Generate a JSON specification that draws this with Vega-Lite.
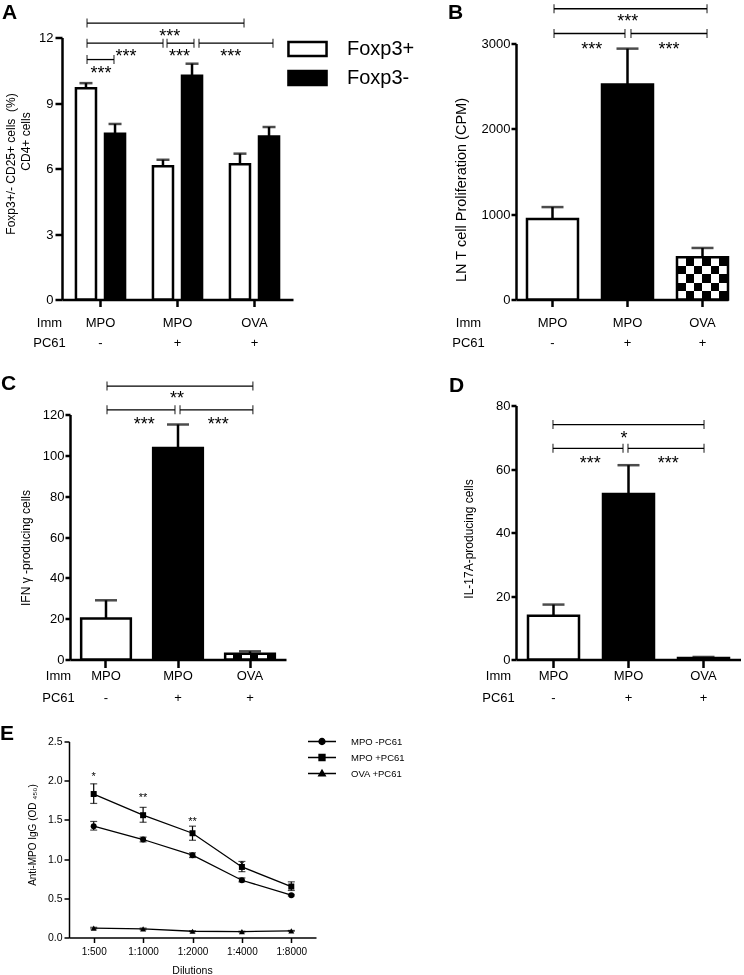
{
"$schema":"https://vega.github.io/schema/vega-lite/v6.json",
"background":"white",
"padding":{"left":0,"top":1.5,"right":0,"bottom":0},
"autosize":{"type":"pad"},
"bounds":"flush",
"columns":2,
"spacing":{"row":80,"column":200},
"resolve":{"scale":{"fill":"independent","shape":"independent"},"legend":{"fill":"independent","shape":"independent"}},
"config":{
 "font":"Liberation Sans",
 "view":{"stroke":null},
 "axis":{"domainColor":"black","tickColor":"black","labelColor":"black","titleColor":"black","grid":false,"titleFontWeight":"normal","labelFont":"Liberation Sans","titleFont":"Liberation Sans","labelOverlap":false},
 "title":{"fontSize":21,"fontWeight":"bold","anchor":"start","frame":"group","offset":2,"color":"black","font":"Liberation Sans"}
},
"datasets":{
 "A":[
  {"grp":"MPO|-","cell":"Foxp3+","v":9.68,"hi":9.91},
  {"grp":"MPO|-","cell":"Foxp3-","v":7.59,"hi":8.04},
  {"grp":"MPO|+","cell":"Foxp3+","v":6.10,"hi":6.40},
  {"grp":"MPO|+","cell":"Foxp3-","v":10.25,"hi":10.80},
  {"grp":"OVA|+","cell":"Foxp3+","v":6.20,"hi":6.68},
  {"grp":"OVA|+","cell":"Foxp3-","v":7.47,"hi":7.90}
 ],
 "A_br":[
  {"x1":0.325,"x2":2.364,"y":12.66},
  {"x1":0.325,"x2":1.312,"y":11.74},
  {"x1":1.364,"x2":1.714,"y":11.74},
  {"x1":1.779,"x2":2.74,"y":11.74},
  {"x1":0.325,"x2":0.675,"y":10.99}
 ],
 "A_lab":[
  {"x":1.40,"y":12.45,"t":"***"},
  {"x":0.83,"y":11.5,"t":"***"},
  {"x":1.526,"y":11.5,"t":"***"},
  {"x":2.19,"y":11.5,"t":"***"},
  {"x":0.506,"y":10.72,"t":"***"}
 ],
 "B":[
  {"grp":"MPO|-","v":943,"hi":1083},
  {"grp":"MPO|+","v":2520,"hi":2940},
  {"grp":"OVA|+","v":494,"hi":604}
 ],
 "B_br":[
  {"x1":0.507,"x2":2.547,"y":3407},
  {"x1":0.507,"x2":1.453,"y":3117},
  {"x1":1.533,"x2":2.547,"y":3117}
 ],
 "B_lab":[
  {"x":1.49,"y":3352,"t":"***"},
  {"x":1.01,"y":3035,"t":"***"},
  {"x":2.04,"y":3035,"t":"***"}
 ],
 "C":[
  {"grp":"MPO|-","v":20.1,"hi":29.0},
  {"grp":"MPO|+","v":103.6,"hi":115.1},
  {"grp":"OVA|+","v":2.8,"hi":4.0}
 ],
 "C_br":[
  {"x1":0.514,"x2":2.54,"y":133.9},
  {"x1":0.514,"x2":1.458,"y":122.3},
  {"x1":1.528,"x2":2.54,"y":122.3}
 ],
 "C_lab":[
  {"x":1.486,"y":131.8,"t":"**"},
  {"x":1.03,"y":119.5,"t":"***"},
  {"x":2.06,"y":119.5,"t":"***"}
 ],
 "D":[
  {"grp":"MPO|-","v":13.8,"hi":17.3},
  {"grp":"MPO|+","v":52.1,"hi":61.2},
  {"grp":"OVA|+","v":0.5,"hi":0.8}
 ],
 "D_br":[
  {"x1":0.493,"x2":2.507,"y":74.0},
  {"x1":0.493,"x2":1.427,"y":66.5},
  {"x1":1.493,"x2":2.507,"y":66.5}
 ],
 "D_lab":[
  {"x":1.44,"y":72.4,"t":"*"},
  {"x":0.99,"y":64.3,"t":"***"},
  {"x":2.03,"y":64.3,"t":"***"}
 ],
 "E":[
  {"dil":"1:500","s":"MPO -PC61","v":1.42,"lo":1.37,"hi":1.48},
  {"dil":"1:1000","s":"MPO -PC61","v":1.25,"lo":1.22,"hi":1.28},
  {"dil":"1:2000","s":"MPO -PC61","v":1.05,"lo":1.02,"hi":1.08},
  {"dil":"1:4000","s":"MPO -PC61","v":0.73,"lo":0.71,"hi":0.76},
  {"dil":"1:8000","s":"MPO -PC61","v":0.54,"lo":0.53,"hi":0.55},
  {"dil":"1:500","s":"MPO +PC61","v":1.83,"lo":1.71,"hi":1.96},
  {"dil":"1:1000","s":"MPO +PC61","v":1.56,"lo":1.47,"hi":1.66},
  {"dil":"1:2000","s":"MPO +PC61","v":1.33,"lo":1.24,"hi":1.42},
  {"dil":"1:4000","s":"MPO +PC61","v":0.90,"lo":0.84,"hi":0.97},
  {"dil":"1:8000","s":"MPO +PC61","v":0.65,"lo":0.60,"hi":0.71},
  {"dil":"1:500","s":"OVA +PC61","v":0.12,"lo":0.11,"hi":0.13},
  {"dil":"1:1000","s":"OVA +PC61","v":0.11,"lo":0.10,"hi":0.12},
  {"dil":"1:2000","s":"OVA +PC61","v":0.08,"lo":0.075,"hi":0.085},
  {"dil":"1:4000","s":"OVA +PC61","v":0.075,"lo":0.07,"hi":0.08},
  {"dil":"1:8000","s":"OVA +PC61","v":0.085,"lo":0.08,"hi":0.09}
 ],
 "E_lab":[
  {"dil":"1:500","y":2.12,"t":"*"},
  {"dil":"1:1000","y":1.85,"t":"**"},
  {"dil":"1:2000","y":1.55,"t":"**"},
  {"dil":"1:4000","y":0.99,"t":"*"}
 ]
},
"concat":[
 {
  "width":231,"height":262,
  "title":{"text":"A","dx":-60,"dy":6},
  "resolve":{"scale":{"x":"independent"}},
  "layer":[
   {
    "data":{"name":"A"},
    "encoding":{
     "x":{"field":"grp","type":"nominal","sort":null,"scale":{"domain":["MPO|-","MPO|+","OVA|+"],"paddingInner":0,"paddingOuter":0},
      "axis":{"labelExpr":"split(datum.value,'|')","labelLineHeight":20,"labelPadding":10,"labelBaseline":"top","tickSize":7,"tickWidth":2.5,"domainWidth":2.5,"labelFontSize":13,"labelAngle":0,
       "title":["Imm","PC61"],"titleX":-13,"titleY":17,"titleAlign":"center","titleBaseline":"top","titleLineHeight":20,"titleFontSize":13,"titleAngle":0}},
     "xOffset":{"field":"cell","type":"nominal","sort":["Foxp3+","Foxp3-"],"scale":{"paddingInner":0.31,"paddingOuter":0.48}},
     "y":{"field":"v","type":"quantitative","scale":{"domain":[0,12]},
      "axis":{"values":[0,3,6,9,12],"tickSize":7,"tickWidth":2.5,"domainWidth":2.5,"labelFontSize":13,"labelPadding":2,
       "title":["Foxp3+/- CD25+ cells\u00a0 (%)","\u2800\u2800\u2800\u2800\u2800CD4+ cells"],"titleX":-57,"titleY":126,"titleAlign":"center","titleBaseline":"top","titleAngle":270,"titleLineHeight":15,"titleFontSize":12}}
    },
    "layer":[
     {"mark":{"type":"bar","stroke":"black","strokeWidth":2.5},
      "encoding":{"fill":{"field":"cell","type":"nominal","scale":{"domain":["Foxp3+","Foxp3-"],"range":["white","black"]},
       "legend":{"orient":"none","legendX":230,"legendY":-4,"title":null,"symbolType":"M-1.36,-0.5H1.36V0.5H-1.36Z","symbolSize":784,"symbolStrokeColor":"black","symbolStrokeWidth":2.5,"labelFontSize":20,"labelOffset":24,"rowPadding":1,"padding":0,"labelColor":"black","labelFont":"Liberation Sans"}}}},
     {"mark":{"type":"rule","color":"black","strokeWidth":2.5},"encoding":{"y2":{"field":"hi"}}},
     {"mark":{"type":"tick","orient":"horizontal","color":"black","size":13,"thickness":2.5},"encoding":{"y":{"field":"hi","type":"quantitative","scale":{"domain":[0,12]}}}}
    ]
   },
   {
    "layer":[
     {"data":{"name":"A_br"},"mark":{"type":"rule","color":"black","strokeWidth":1.3},
      "encoding":{"x":{"field":"x1","type":"quantitative","scale":{"domain":[0,3]},"axis":null},"x2":{"field":"x2"},"y":{"field":"y","type":"quantitative","scale":{"domain":[0,12]}}}},
     {"data":{"name":"A_br"},"transform":[{"fold":["x1","x2"],"as":["end","xe"]}],"mark":{"type":"tick","orient":"vertical","color":"black","size":9,"thickness":1.3},
      "encoding":{"x":{"field":"xe","type":"quantitative","scale":{"domain":[0,3]},"axis":null},"y":{"field":"y","type":"quantitative","scale":{"domain":[0,12]}}}},
     {"data":{"name":"A_lab"},"mark":{"type":"text","baseline":"top","fontSize":18,"color":"black"},
      "encoding":{"x":{"field":"x","type":"quantitative","scale":{"domain":[0,3]},"axis":null},"y":{"field":"y","type":"quantitative","scale":{"domain":[0,12]}},"text":{"field":"t"}}}
    ]
   }
  ]
 },
 {
  "width":212,"height":262,
  "title":{"text":"B","dx":-68,"dy":20.7},
  "resolve":{"scale":{"x":"independent"}},
  "layer":[
   {
    "data":{"name":"B"},
    "encoding":{
     "x":{"field":"grp","type":"nominal","sort":null,"scale":{"domain":["MPO|-","MPO|+","OVA|+"],"paddingInner":0.32,"paddingOuter":0.0733,"align":1},
      "axis":{"labelExpr":"split(datum.value,'|')","labelLineHeight":20,"labelPadding":10,"labelBaseline":"top","tickSize":7,"tickWidth":2.5,"domainWidth":2.5,"labelFontSize":13,"labelAngle":0,
       "title":["Imm","PC61"],"titleX":-48,"titleY":17,"titleAlign":"center","titleBaseline":"top","titleLineHeight":20,"titleFontSize":13,"titleAngle":0}},
     "y":{"field":"v","type":"quantitative","scale":{"domain":[0,3000],"range":[262,6]},
      "axis":{"values":[0,1000,2000,3000],"format":"d","tickSize":5,"tickWidth":2.5,"domainWidth":2.5,"labelFontSize":13,"labelPadding":1,
       "title":"LN T cell Proliferation (CPM)","titleX":-62,"titleY":152,"titleAlign":"center","titleBaseline":"top","titleAngle":270,"titleFontSize":14.5}}
    },
    "layer":[
     {"transform":[{"filter":"datum.grp == 'OVA|+'"}],
      "mark":{"type":"bar","fill":{"gradient":"linear","x1":0,"y1":0,"x2":0,"y2":1,"stops":[{"offset":0,"color":"white"},{"offset":0.2,"color":"white"},{"offset":0.2,"color":"black"},{"offset":0.4,"color":"black"},{"offset":0.4,"color":"white"},{"offset":0.6,"color":"white"},{"offset":0.6,"color":"black"},{"offset":0.8,"color":"black"},{"offset":0.8,"color":"white"},{"offset":1,"color":"white"}]}}},
     {"transform":[{"filter":"datum.grp == 'OVA|+'"}],
      "mark":{"type":"bar","blend":"difference","fill":{"gradient":"linear","x1":0,"y1":0,"x2":1,"y2":0,"stops":[{"offset":0,"color":"black"},{"offset":0.1667,"color":"black"},{"offset":0.1667,"color":"white"},{"offset":0.3333,"color":"white"},{"offset":0.3333,"color":"black"},{"offset":0.5,"color":"black"},{"offset":0.5,"color":"white"},{"offset":0.6667,"color":"white"},{"offset":0.6667,"color":"black"},{"offset":0.8333,"color":"black"},{"offset":0.8333,"color":"white"},{"offset":1,"color":"white"}]}}},
     {"mark":{"type":"bar","stroke":"black","strokeWidth":2.5},
      "encoding":{"fill":{"field":"grp","type":"nominal","scale":{"domain":["MPO|-","MPO|+","OVA|+"],"range":["white","black","transparent"]},"legend":null}}},
     {"mark":{"type":"rule","color":"black","strokeWidth":2.5},"encoding":{"y2":{"field":"hi"}}},
     {"mark":{"type":"tick","orient":"horizontal","color":"black","size":22,"thickness":2.5},"encoding":{"y":{"field":"hi","type":"quantitative","scale":{"domain":[0,3000],"range":[262,6]}}}}
    ]
   },
   {
    "layer":[
     {"data":{"name":"B_br"},"mark":{"type":"rule","color":"black","strokeWidth":1.3},
      "encoding":{"x":{"field":"x1","type":"quantitative","scale":{"domain":[0,2.8267]},"axis":null},"x2":{"field":"x2"},"y":{"field":"y","type":"quantitative","scale":{"domain":[0,3000],"range":[262,6]}}}},
     {"data":{"name":"B_br"},"transform":[{"fold":["x1","x2"],"as":["end","xe"]}],"mark":{"type":"tick","orient":"vertical","color":"black","size":9,"thickness":1.3},
      "encoding":{"x":{"field":"xe","type":"quantitative","scale":{"domain":[0,2.8267]},"axis":null},"y":{"field":"y","type":"quantitative","scale":{"domain":[0,3000],"range":[262,6]}}}},
     {"data":{"name":"B_lab"},"mark":{"type":"text","baseline":"top","fontSize":18,"color":"black"},
      "encoding":{"x":{"field":"x","type":"quantitative","scale":{"domain":[0,2.8267]},"axis":null},"y":{"field":"y","type":"quantitative","scale":{"domain":[0,3000],"range":[262,6]}},"text":{"field":"t"}}}
    ]
   }
  ]
 },
 {
  "width":224,"height":280,
  "title":{"text":"C","dx":-61,"dy":16},
  "resolve":{"scale":{"x":"independent"}},
  "layer":[
   {
    "data":{"name":"C"},
    "encoding":{
     "x":{"field":"grp","type":"nominal","sort":null,"scale":{"domain":["MPO|-","MPO|+","OVA|+"],"range":[8,224],"paddingInner":0.31,"paddingOuter":0.155},
      "axis":{"labelExpr":"split(datum.value,'|')","labelLineHeight":22,"labelPadding":2,"labelBaseline":"top","tickSize":8,"tickWidth":2.5,"domainWidth":2.5,"labelFontSize":13,"labelAngle":0,
       "title":["Imm","PC61"],"titleX":-4,"titleY":10,"titleAlign":"center","titleBaseline":"top","titleLineHeight":22,"titleFontSize":13,"titleAngle":0}},
     "y":{"field":"v","type":"quantitative","scale":{"domain":[0,120],"range":[280,35]},
      "axis":{"values":[0,20,40,60,80,100,120],"offset":-8,"tickSize":5,"tickWidth":2.5,"domainWidth":2.5,"labelFontSize":13,"labelPadding":1,
       "title":"IFN γ -producing cells","titleX":-50,"titleY":168,"titleAlign":"center","titleBaseline":"top","titleAngle":270,"titleFontSize":12}}
    },
    "layer":[
     {"transform":[{"filter":"datum.grp == 'OVA|+'"}],
      "mark":{"type":"bar","fill":{"gradient":"linear","x1":0,"y1":0,"x2":1,"y2":0,"stops":[{"offset":0,"color":"white"},{"offset":0.1667,"color":"white"},{"offset":0.1667,"color":"black"},{"offset":0.3333,"color":"black"},{"offset":0.3333,"color":"white"},{"offset":0.5,"color":"white"},{"offset":0.5,"color":"black"},{"offset":0.6667,"color":"black"},{"offset":0.6667,"color":"white"},{"offset":0.8333,"color":"white"},{"offset":0.8333,"color":"black"},{"offset":1,"color":"black"}]}}},
     {"mark":{"type":"bar","stroke":"black","strokeWidth":2.5},
      "encoding":{"fill":{"field":"grp","type":"nominal","scale":{"domain":["MPO|-","MPO|+","OVA|+"],"range":["white","black","transparent"]},"legend":null}}},
     {"mark":{"type":"rule","color":"black","strokeWidth":2.5},"encoding":{"y2":{"field":"hi"}}},
     {"mark":{"type":"tick","orient":"horizontal","color":"black","size":22,"thickness":2.5},"encoding":{"y":{"field":"hi","type":"quantitative","scale":{"domain":[0,120],"range":[280,35]}}}}
    ]
   },
   {
    "layer":[
     {"data":{"name":"C_br"},"mark":{"type":"rule","color":"black","strokeWidth":1.3},
      "encoding":{"x":{"field":"x1","type":"quantitative","scale":{"domain":[0,3],"range":[8,224]},"axis":null},"x2":{"field":"x2"},"y":{"field":"y","type":"quantitative","scale":{"domain":[0,120],"range":[280,35]}}}},
     {"data":{"name":"C_br"},"transform":[{"fold":["x1","x2"],"as":["end","xe"]}],"mark":{"type":"tick","orient":"vertical","color":"black","size":9,"thickness":1.3},
      "encoding":{"x":{"field":"xe","type":"quantitative","scale":{"domain":[0,3],"range":[8,224]},"axis":null},"y":{"field":"y","type":"quantitative","scale":{"domain":[0,120],"range":[280,35]}}}},
     {"data":{"name":"C_lab"},"mark":{"type":"text","baseline":"top","fontSize":18,"color":"black"},
      "encoding":{"x":{"field":"x","type":"quantitative","scale":{"domain":[0,3],"range":[8,224]},"axis":null},"y":{"field":"y","type":"quantitative","scale":{"domain":[0,120],"range":[280,35]}},"text":{"field":"t"}}}
    ]
   }
  ]
 },
 {
  "width":225,"height":280,
  "title":{"text":"D","dx":-67,"dy":18},
  "resolve":{"scale":{"x":"independent"}},
  "layer":[
   {
    "data":{"name":"D"},
    "encoding":{
     "x":{"field":"grp","type":"nominal","sort":null,"scale":{"domain":["MPO|-","MPO|+","OVA|+"],"paddingInner":0.32,"paddingOuter":0.16},
      "axis":{"labelExpr":"split(datum.value,'|')","labelLineHeight":22,"labelPadding":2,"labelBaseline":"top","tickSize":8,"tickWidth":2.5,"domainWidth":2.5,"labelFontSize":13,"labelAngle":0,
       "title":["Imm","PC61"],"titleX":-18,"titleY":10,"titleAlign":"center","titleBaseline":"top","titleLineHeight":22,"titleFontSize":13,"titleAngle":0}},
     "y":{"field":"v","type":"quantitative","scale":{"domain":[0,80],"range":[280,26]},
      "axis":{"values":[0,20,40,60,80],"tickSize":5,"tickWidth":2.5,"domainWidth":2.5,"labelFontSize":13,"labelPadding":1,
       "title":"IL-17A-producing cells","titleX":-53,"titleY":159,"titleAlign":"center","titleBaseline":"top","titleAngle":270,"titleFontSize":12}}
    },
    "layer":[
     {"transform":[{"filter":"datum.grp == 'OVA|+'"}],
      "mark":{"type":"bar","fill":{"gradient":"linear","x1":0,"y1":0,"x2":1,"y2":0,"stops":[{"offset":0,"color":"white"},{"offset":0.1667,"color":"white"},{"offset":0.1667,"color":"black"},{"offset":0.3333,"color":"black"},{"offset":0.3333,"color":"white"},{"offset":0.5,"color":"white"},{"offset":0.5,"color":"black"},{"offset":0.6667,"color":"black"},{"offset":0.6667,"color":"white"},{"offset":0.8333,"color":"white"},{"offset":0.8333,"color":"black"},{"offset":1,"color":"black"}]}}},
     {"mark":{"type":"bar","stroke":"black","strokeWidth":2.5},
      "encoding":{"fill":{"field":"grp","type":"nominal","scale":{"domain":["MPO|-","MPO|+","OVA|+"],"range":["white","black","transparent"]},"legend":null}}},
     {"mark":{"type":"rule","color":"black","strokeWidth":2.5},"encoding":{"y2":{"field":"hi"}}},
     {"mark":{"type":"tick","orient":"horizontal","color":"black","size":22,"thickness":2.5},"encoding":{"y":{"field":"hi","type":"quantitative","scale":{"domain":[0,80],"range":[280,26]}}}}
    ]
   },
   {
    "layer":[
     {"data":{"name":"D_br"},"mark":{"type":"rule","color":"black","strokeWidth":1.3},
      "encoding":{"x":{"field":"x1","type":"quantitative","scale":{"domain":[0,3]},"axis":null},"x2":{"field":"x2"},"y":{"field":"y","type":"quantitative","scale":{"domain":[0,80],"range":[280,26]}}}},
     {"data":{"name":"D_br"},"transform":[{"fold":["x1","x2"],"as":["end","xe"]}],"mark":{"type":"tick","orient":"vertical","color":"black","size":9,"thickness":1.3},
      "encoding":{"x":{"field":"xe","type":"quantitative","scale":{"domain":[0,3]},"axis":null},"y":{"field":"y","type":"quantitative","scale":{"domain":[0,80],"range":[280,26]}}}},
     {"data":{"name":"D_lab"},"mark":{"type":"text","baseline":"top","fontSize":18,"color":"black"},
      "encoding":{"x":{"field":"x","type":"quantitative","scale":{"domain":[0,3]},"axis":null},"y":{"field":"y","type":"quantitative","scale":{"domain":[0,80],"range":[280,26]}},"text":{"field":"t"}}}
    ]
   }
  ]
 },
 {
  "width":254,"height":198,
  "title":{"text":"E","dx":-62,"dy":12.5},
  "resolve":{"scale":{"shape":"independent"},"legend":{"shape":"independent"}},
  "encoding":{
   "x":{"field":"dil","type":"ordinal","sort":["1:500","1:1000","1:2000","1:4000","1:8000"],"scale":{"type":"point","padding":0.5,"range":[7,254]},
    "axis":{"tickSize":5,"tickWidth":1.5,"domainWidth":1.5,"labelFontSize":10,"labelPadding":4,"labelAngle":0,
     "title":"Dilutions","titleX":130,"titleY":28,"titleAlign":"center","titleBaseline":"top","titleFontSize":10.5}}
  },
  "layer":[
   {"data":{"name":"E"},"mark":{"type":"line","color":"black","strokeWidth":1.3},
    "encoding":{"y":{"field":"v","type":"quantitative","scale":{"domain":[0,2.5],"range":[198,2]},
     "axis":{"values":[0,0.5,1,1.5,2,2.5],"format":".1f","offset":-7,"tickSize":5,"tickWidth":1.5,"domainWidth":1.5,"labelFontSize":10.5,"labelPadding":2,
      "title":"Anti-MPO IgG (OD ₄₅₀)","titleX":-42,"titleY":95,"titleAlign":"center","titleBaseline":"top","titleAngle":270,"titleFontSize":10}},
     "detail":{"field":"s"}}},
   {"data":{"name":"E"},"mark":{"type":"rule","color":"black","strokeWidth":1.2},
    "encoding":{"y":{"field":"lo","type":"quantitative","scale":{"domain":[0,2.5],"range":[198,2]},
     "axis":{"values":[0,0.5,1,1.5,2,2.5],"format":".1f","offset":-7,"tickSize":5,"tickWidth":1.5,"domainWidth":1.5,"labelFontSize":10.5,"labelPadding":2,
      "title":"Anti-MPO IgG (OD ₄₅₀)","titleX":-42,"titleY":95,"titleAlign":"center","titleBaseline":"top","titleAngle":270,"titleFontSize":10}},"y2":{"field":"hi"}}},
   {"data":{"name":"E"},"mark":{"type":"tick","orient":"horizontal","color":"black","size":7,"thickness":1.2},
    "encoding":{"y":{"field":"lo","type":"quantitative","scale":{"domain":[0,2.5],"range":[198,2]},
     "axis":{"values":[0,0.5,1,1.5,2,2.5],"format":".1f","offset":-7,"tickSize":5,"tickWidth":1.5,"domainWidth":1.5,"labelFontSize":10.5,"labelPadding":2,
      "title":"Anti-MPO IgG (OD ₄₅₀)","titleX":-42,"titleY":95,"titleAlign":"center","titleBaseline":"top","titleAngle":270,"titleFontSize":10}}}},
   {"data":{"name":"E"},"mark":{"type":"tick","orient":"horizontal","color":"black","size":7,"thickness":1.2},
    "encoding":{"y":{"field":"hi","type":"quantitative","scale":{"domain":[0,2.5],"range":[198,2]},
     "axis":{"values":[0,0.5,1,1.5,2,2.5],"format":".1f","offset":-7,"tickSize":5,"tickWidth":1.5,"domainWidth":1.5,"labelFontSize":10.5,"labelPadding":2,
      "title":"Anti-MPO IgG (OD ₄₅₀)","titleX":-42,"titleY":95,"titleAlign":"center","titleBaseline":"top","titleAngle":270,"titleFontSize":10}}}},
   {"data":{"name":"E"},"mark":{"type":"point","filled":true,"color":"black","opacity":1,"size":36},
    "encoding":{"y":{"field":"v","type":"quantitative","scale":{"domain":[0,2.5],"range":[198,2]},
     "axis":{"values":[0,0.5,1,1.5,2,2.5],"format":".1f","offset":-7,"tickSize":5,"tickWidth":1.5,"domainWidth":1.5,"labelFontSize":10.5,"labelPadding":2,
      "title":"Anti-MPO IgG (OD ₄₅₀)","titleX":-42,"titleY":95,"titleAlign":"center","titleBaseline":"top","titleAngle":270,"titleFontSize":10}},
     "shape":{"field":"s","type":"nominal","scale":{"domain":["MPO -PC61","MPO +PC61","OVA +PC61"],"range":["circle","square","triangle-up"]},"legend":null}}},
   {"data":{"name":"E"},"mark":{"type":"point","filled":true,"fill":"black","stroke":"black","strokeWidth":1.3,"opacity":0,"size":196},
    "encoding":{"y":{"field":"v","type":"quantitative","scale":{"domain":[0,2.5],"range":[198,2]},
     "axis":{"values":[0,0.5,1,1.5,2,2.5],"format":".1f","offset":-7,"tickSize":5,"tickWidth":1.5,"domainWidth":1.5,"labelFontSize":10.5,"labelPadding":2,
      "title":"Anti-MPO IgG (OD ₄₅₀)","titleX":-42,"titleY":95,"titleAlign":"center","titleBaseline":"top","titleAngle":270,"titleFontSize":10}},
     "shape":{"field":"s","type":"nominal","scale":{"domain":["MPO -PC61","MPO +PC61","OVA +PC61"],"range":["M-2,0H2M0.43,0A0.43,0.43,0,1,1,-0.43,0A0.43,0.43,0,1,1,0.43,0Z","M-2,0H2M-0.43,-0.43H0.43V0.43H-0.43Z","M-2,0H2M0,-0.5L0.48,0.35H-0.48Z"]},
      "legend":{"orient":"none","legendX":252,"legendY":-6,"title":null,"symbolSize":196,"symbolOpacity":1,"symbolStrokeWidth":1.3,"symbolFillColor":"black","labelFontSize":9.5,"labelOffset":21,"rowPadding":2,"padding":0,"labelColor":"black","labelFont":"Liberation Sans"}}}},
   {"data":{"name":"E_lab"},"mark":{"type":"text","baseline":"top","fontSize":11,"color":"black"},
    "encoding":{"y":{"field":"y","type":"quantitative","scale":{"domain":[0,2.5],"range":[198,2]},
     "axis":{"values":[0,0.5,1,1.5,2,2.5],"format":".1f","offset":-7,"tickSize":5,"tickWidth":1.5,"domainWidth":1.5,"labelFontSize":10.5,"labelPadding":2,
      "title":"Anti-MPO IgG (OD ₄₅₀)","titleX":-42,"titleY":95,"titleAlign":"center","titleBaseline":"top","titleAngle":270,"titleFontSize":10}},"text":{"field":"t"}}}
  ]
 }
]
}
